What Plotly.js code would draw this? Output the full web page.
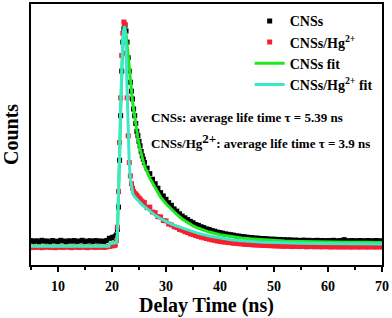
<!DOCTYPE html>
<html>
<head>
<meta charset="utf-8">
<script src="https://cdn.plot.ly/plotly-3.0.1.min.js"></script>
<style>html,body{margin:0;padding:0;background:#fff;}#chart{width:392px;height:318px;}</style>
</head>
<body>
<div id="chart"></div>
<script>
// Time axis of the measured decays (ns)
const times = [5,5.5,6,6.5,7,7.5,8,8.5,9,9.5,10,10.5,11,11.5,12,12.5,13,13.5,14,14.5,15,15.5,16,16.5,17,17.5,18,18.5,19,19.5,
  20,20.2,20.4,20.6,20.8,21,21.2,21.4,21.6,21.8,22,22.2,22.4,22.6,22.8,23,23.2,23.4,23.6,23.8,24,24.2,24.4,24.6,24.8,25,25.2,25.4,25.6,25.8,
  26,26.5,27,27.5,28,28.5,29,29.5,30,30.5,31,31.5,32,32.5,33,33.5,34,34.5,35,35.5,36,36.5,37,37.5,38,38.5,39,39.5,40,40.5,
  41,41.5,42,42.5,43,43.5,44,44.5,45,45.5,46,46.5,47,47.5,48,48.5,49,49.5,50,50.5,51,51.5,52,52.5,53,53.5,54,54.5,55,55.5,
  56,56.5,57,57.5,58,58.5,59,59.5,60,60.5,61,61.5,62,62.5,63,63.5,64,64.5,65,65.5,66,66.5,67,67.5,68,68.5,69,69.5,70];

// CNSs measured counts (normalized)
const cnsCounts = [0.02,0.016,0.019,0.015,0.021,0.017,0.018,0.014,0.02,0.017,0.016,0.021,0.018,0.015,0.019,0.017,0.02,0.016,0.018,0.021,0.015,0.018,0.019,0.016,0.02,0.017,0.018,0.016,0.02,0.03,
  0.032,0.035,0.034,0.038,0.045,0.07,0.17,0.38,0.58,0.78,0.91,0.97,0.985,0.96,0.91,0.84,0.78,0.73,0.69,0.655,0.61,0.58,0.545,0.51,0.49,0.465,0.445,0.42,0.40,0.385,
  0.37,0.345,0.32,0.295,0.275,0.255,0.235,0.22,0.205,0.19,
  0.178,0.162,0.152,0.14,0.13,0.122,0.114,0.106,0.1,0.092,
  0.088,0.082,0.078,0.072,0.07,0.065,0.062,0.058,0.056,0.053,
  0.05,0.048,0.046,0.044,0.041,0.04,0.038,0.037,0.035,0.034,
  0.033,0.031,0.031,0.029,0.029,0.028,0.027,0.026,0.026,0.025,
  0.025,0.023,0.024,0.022,0.023,0.021,0.022,0.021,0.02,0.022,
  0.02,0.021,0.019,0.02,0.021,0.019,0.02,0.018,0.02,0.019,
  0.021,0.018,0.019,0.02,0.024,0.018,0.019,0.02,0.018,0.019,
  0.02,0.018,0.019,0.02,0.018,0.019,0.02,0.018,0.019];

// CNSs/Hg2+ measured counts (normalized)
const hgCounts = [-0.012,-0.009,-0.011,-0.008,-0.012,-0.01,-0.009,-0.011,-0.01,-0.012,-0.009,-0.01,-0.011,-0.008,-0.01,-0.012,-0.009,-0.01,-0.011,-0.009,-0.01,-0.012,-0.008,-0.01,-0.011,-0.009,-0.01,-0.011,-0.009,-0.006,
  -0.004,-0.003,-0.002,0.0,0.02,0.08,0.24,0.46,0.66,0.85,0.95,1.0,0.99,0.86,0.66,0.49,0.37,0.31,0.275,0.255,0.24,0.232,0.228,0.222,0.215,0.21,0.205,0.198,0.194,0.188,
  0.19,0.168,0.17,0.148,0.145,0.127,0.126,0.11,0.108,0.094,
  0.09,0.082,0.078,0.07,0.066,0.06,0.056,0.05,0.047,0.042,
  0.039,0.035,0.032,0.029,0.026,0.023,0.021,0.018,0.016,0.014,
  0.013,0.011,0.01,0.008,0.007,0.006,0.005,0.003,0.003,0.002,
  0.001,0,0,-0.001,-0.002,-0.002,-0.003,-0.003,-0.004,-0.004,
  -0.005,-0.005,-0.006,-0.005,-0.006,-0.007,-0.006,-0.007,-0.007,-0.006,
  -0.008,-0.007,-0.007,-0.008,-0.007,-0.008,-0.008,-0.007,-0.008,-0.009,
  -0.008,-0.008,-0.009,-0.008,-0.009,-0.008,-0.009,-0.009,-0.008,-0.009,
  -0.009,-0.008,-0.009,-0.009,-0.008,-0.009,-0.009,-0.008,-0.009];

// Fit curves
const fitTimes = [5,10,15,19.4,19.6,20.2,20.8,21,21.2,21.4,21.6,21.8,22,22.2,22.4,22.6,22.8,23,23.2,23.4,23.6,23.8,24,24.4,24.8,25.2,25.6,
  26,27,28,29,30,31,32,33,34,35,36,38,40,42,44,46,48,50,52,55,58,61,64,67,70];
const cnsFit = [-0.004,-0.004,-0.004,-0.004,0.008,0.009,0.012,0.05,0.18,0.40,0.60,0.80,0.91,0.955,0.965,0.95,0.90,0.83,0.77,0.72,0.68,0.645,0.61,0.54,0.48,0.43,0.39,
  0.355,0.30,0.255,0.215,0.185,0.16,0.137,0.117,0.10,0.086,0.075,0.058,0.046,0.038,0.031,0.027,0.023,0.02,0.018,0.016,0.014,0.013,0.012,0.012,0.011];
const hgFit = [-0.006,-0.006,-0.006,-0.006,0.006,0.007,0.01,0.05,0.18,0.40,0.61,0.81,0.93,0.975,0.98,0.87,0.66,0.50,0.36,0.30,0.26,0.235,0.222,0.21,0.20,0.19,0.18,
  0.172,0.152,0.133,0.118,0.105,0.094,0.085,0.077,0.068,0.06,0.052,0.04,0.031,0.024,0.019,0.015,0.012,0.011,0.009,0.008,0.007,0.006,0.006,0.005,0.005];

const seriesNames = ['<b>CNSs</b>', '<b>CNSs/Hg<sup>2+</sup></b>', '<b>CNSs fit</b>', '<b>CNSs/Hg<sup>2+</sup> fit</b>'];
const xTickVals = [10,20,30,40,50,60,70];
const xTickText = ['<b>10</b>','<b>20</b>','<b>30</b>','<b>40</b>','<b>50</b>','<b>60</b>','<b>70</b>'];
const noteLines = ['<b>CNSs: average life time τ = 5.39 ns</b>',
  '<b>CNSs/Hg<sup><span style="font-size:13px">2+</span></sup>: average life time τ = 3.9 ns</b>'];

const FONT = 'Liberation Serif, Times New Roman, serif';

const traces = [
  {x: times, y: cnsCounts, name: seriesNames[0], type: 'scatter', mode: 'markers',
   marker: {symbol: 'square', size: 5, color: '#000000'}},
  {x: times, y: hgCounts, name: seriesNames[1], type: 'scatter', mode: 'markers',
   marker: {symbol: 'square', size: 5, color: '#f5202f'}},
  {x: fitTimes, y: cnsFit, name: seriesNames[2], type: 'scatter', mode: 'lines',
   line: {color: '#1ee81e', width: 3}},
  {x: fitTimes, y: hgFit, name: seriesNames[3], type: 'scatter', mode: 'lines',
   line: {color: '#3de8c8', width: 3}}
];

const layout = {
  width: 392, height: 318,
  margin: {l: 31, r: 10, t: 4, b: 53},
  paper_bgcolor: '#ffffff', plot_bgcolor: '#ffffff',
  font: {family: FONT, color: '#000000'},
  showlegend: true,
  legend: {x: 0.623, y: 0.995, xanchor: 'left', yanchor: 'top', bgcolor: 'rgba(0,0,0,0)',
           font: {family: FONT, size: 14, color: '#000'}, tracegroupgap: 0},
  xaxis: {
    range: [5, 70], tickmode: 'array', tickvals: xTickVals, ticktext: xTickText,
    ticks: 'outside', ticklen: 5, tickwidth: 2, tickcolor: '#000',
    minor: {dtick: 5, tick0: 5, ticks: 'outside', ticklen: 3, tickwidth: 2, tickcolor: '#000'},
    showline: true, linewidth: 2, linecolor: '#000', mirror: true,
    showgrid: false, zeroline: false, ticklabelstandoff: 2,
    tickfont: {family: FONT, size: 14, color: '#000', weight: 'bold'},
    title: {text: '<b>Delay Time (ns)</b>', font: {family: FONT, size: 20, color: '#000'}, standoff: 2}
  },
  yaxis: {
    range: [-0.0897, 1.081], showticklabels: false, ticks: '',
    showline: true, linewidth: 2, linecolor: '#000', mirror: true,
    showgrid: false, zeroline: false,
    title: {text: '<b>Counts</b>', font: {family: FONT, size: 20, color: '#000'}, standoff: 7}
  },
  annotations: [
    {xref: 'paper', yref: 'paper', x: 0.336, y: 0.567, xanchor: 'left', yanchor: 'middle', showarrow: false,
     text: noteLines[0], font: {family: FONT, size: 13, color: '#000'}},
    {xref: 'paper', yref: 'paper', x: 0.336, y: 0.475, xanchor: 'left', yanchor: 'middle', showarrow: false,
     text: noteLines[1], font: {family: FONT, size: 13, color: '#000'}}
  ]
};

Plotly.newPlot('chart', traces, layout, {displayModeBar: false, staticPlot: true});
</script>
</body>
</html>
